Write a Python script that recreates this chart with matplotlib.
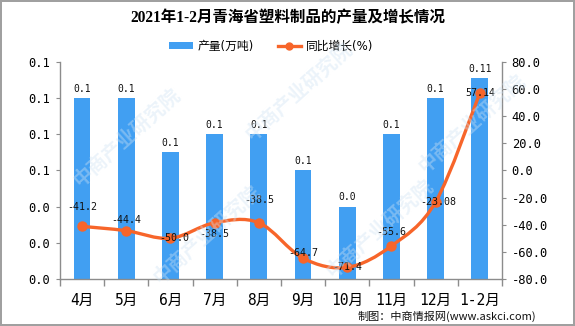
import numpy as np
import matplotlib
matplotlib.use("Agg")
import matplotlib.pyplot as plt
from matplotlib.path import Path
from matplotlib.patches import PathPatch, Patch
from matplotlib.lines import Line2D

months = ["4月", "5月", "6月", "7月", "8月", "9月", "10月", "11月", "12月", "1-2月"]
output = [0.10, 0.10, 0.07, 0.08, 0.08, 0.06, 0.04, 0.08, 0.10, 0.111]
output_labels = ["0.1", "0.1", "0.1", "0.1", "0.1", "0.1", "0.0", "0.1", "0.1", "0.11"]
growth = [-41.2, -44.4, -50.0, -38.5, -38.5, -64.7, -71.4, -55.6, -23.08, 57.14]
growth_labels = ["-41.2", "-44.4", "-50.0", "-38.5", "-38.5", "-64.7", "-71.4", "-55.6", "-23.08", "57.14"]

# label offsets for the growth values (points)
growth_offsets = [(0, 14), (0, 8), (3, 0), (0, -8), (0, 16), (0, 4), (0, 0), (0, 10), (2, 0), (0, 0)]

BLUE = "#419ff2"
ORANGE = "#f7652a"
GRID = "#8c8c8c"
MONO = ["DejaVu Sans Mono", "Noto Sans CJK SC"]

plt.rcParams['font.family'] = ["DejaVu Sans", "Noto Sans CJK SC"]

fig = plt.figure(figsize=(5.75, 3.26), dpi=100)
fig.patch.set_facecolor("white")
fig.patch.set_edgecolor("#a0a0a0")
fig.patch.set_linewidth(1.5)

# watermark
for wx, wy in [(0.22, 0.58), (0.52, 0.72), (0.82, 0.62), (0.36, 0.28), (0.66, 0.3)]:
    fig.text(wx, wy, "中商产业研究院", fontsize=14, color="#cfe3f3", alpha=0.4,
             rotation=42, ha="center", va="center", fontweight="bold",
             family="Noto Sans CJK SC", zorder=10)

ax = fig.add_axes([0.1043, 0.1442, 0.7687, 0.6656])
ax2 = ax.twinx()

x = np.arange(len(months))
ax.bar(x, output, width=0.38, color=BLUE, zorder=2)
for xi, v, lab in zip(x, output, output_labels):
    ax.annotate(lab, (xi, v), xytext=(0, 3), textcoords="offset points",
                ha="center", va="bottom", fontsize=7, family=MONO, color="#111111")

ax.set_xlim(-0.5, len(months) - 0.5)
ax.set_ylim(0, 0.12)
ax.set_yticks(np.arange(0, 0.121, 0.02))
ax.set_yticklabels([f"{t:.1f}" for t in np.arange(0, 0.121, 0.02)])
ax.set_xticks(x)
ax.set_xticklabels(months, family=MONO, fontsize=10.5)
ax.set_xticks(np.arange(-0.5, len(months), 1), minor=True)
ax.tick_params(axis="x", which="major", length=0, pad=10)
ax.tick_params(axis="x", which="minor", length=5, color=GRID, width=1)
ax.tick_params(axis="y", length=3, color=GRID, labelsize=8.7, pad=4)
for lab in ax.get_yticklabels():
    lab.set_family(MONO)

ax2.set_ylim(-80, 80)
ax2.set_yticks(np.arange(-80, 81, 20))
ax2.set_yticklabels([f"{t:.1f}" for t in np.arange(-80, 81, 20)])
ax2.tick_params(axis="y", length=3, color=GRID, labelsize=8.7, pad=4)
for lab in ax2.get_yticklabels():
    lab.set_family(MONO)

for a in (ax, ax2):
    a.spines["top"].set_visible(False)
    for s in ("left", "right", "bottom"):
        a.spines[s].set_color(GRID)
        a.spines[s].set_linewidth(1)
ax.spines["right"].set_visible(False)
ax2.spines["bottom"].set_visible(False)
ax2.spines["left"].set_visible(False)

# smoothed growth line (Catmull-Rom style bezier through the points)
pts = np.column_stack([x, growth]).astype(float)
verts = [tuple(pts[0])]
codes = [Path.MOVETO]
n = len(pts)
for i in range(n - 1):
    p0 = pts[i - 1] if i > 0 else pts[i]
    p1, p2 = pts[i], pts[i + 1]
    p3 = pts[i + 2] if i + 2 < n else pts[i + 1]
    c1 = p1 + (p2 - p0) / 6.0
    c2 = p2 - (p3 - p1) / 6.0
    verts += [tuple(c1), tuple(c2), tuple(p2)]
    codes += [Path.CURVE4] * 3
ax2.add_patch(PathPatch(Path(verts, codes), facecolor="none", edgecolor=ORANGE,
                        lw=2.4, zorder=3, capstyle="round"))
ax2.plot(x, growth, linestyle="none", marker="o", markersize=6.5, color=ORANGE, zorder=4)
for xi, v, lab, off in zip(x, growth, growth_labels, growth_offsets):
    ax2.annotate(lab, (xi, v), xytext=off, textcoords="offset points",
                 ha="center", va="center", fontsize=7.2, family=MONO, color="#111111", zorder=5)

fig.text(0.5, 0.945, "2021年1-2月青海省塑料制品的产量及增长情况", ha="center", va="center",
         fontsize=11.2, fontweight="bold", family=["Liberation Serif", "Noto Sans CJK SC"])

handles = [Patch(facecolor=BLUE, edgecolor="none", label="产量(万吨)"),
           Line2D([0], [0], color=ORANGE, lw=2.4, marker="o", markersize=5, label="同比增长(%)")]
fig.legend(handles=handles, loc="center", bbox_to_anchor=(0.472, 0.858), ncol=2,
           frameon=False, fontsize=8.5, handlelength=2.0, handleheight=0.5,
           columnspacing=2.0, handletextpad=0.4)

fig.text(0.932, 0.03, "制图：中商情报网(www.askci.com)", ha="right", va="center",
         fontsize=8, family="Noto Sans CJK SC", color="#111111")

fig.savefig("out.png", dpi=100, facecolor=fig.get_facecolor(), edgecolor=fig.get_edgecolor())
